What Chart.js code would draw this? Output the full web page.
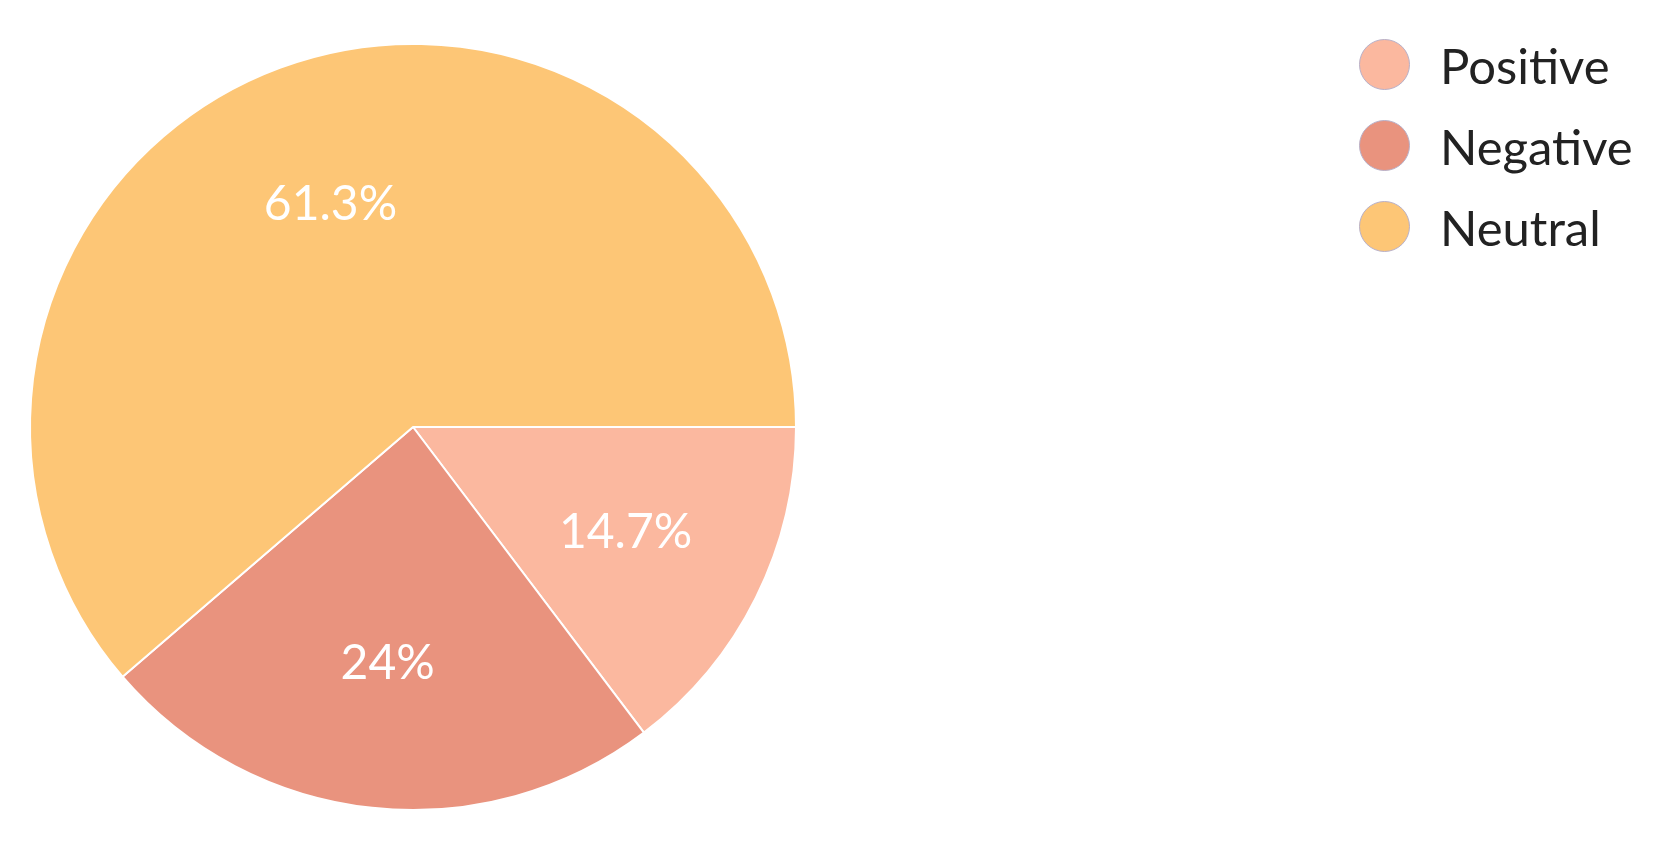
<!DOCTYPE html>
<html>
<head>
<meta charset="utf-8">
<script src="https://cdn.jsdelivr.net/npm/chart.js@4"></script>
<style>
  body { margin: 0; background: #fff; font-family: Lato, "Open Sans", sans-serif; }
  #wrap { position: absolute; left: 0; top: 0; width: 826px; height: 847px; }
  #legend { position: absolute; left: 1359px; top: 24px; }
  .item { display: flex; align-items: center; height: 81px; font-size: 49px; color: #222; }
  .dot { width: 51px; height: 51px; border-radius: 50%; margin-right: 30px; box-sizing: border-box; border: 1px solid #b8b0c8; }
</style>
</head>
<body>
<div id="wrap"><canvas id="pie"></canvas></div>
<div id="legend"></div>
<script>
const labels = ['Positive', 'Negative', 'Neutral'];
const values = [14.7, 24, 61.3];
const valueLabels = ['14.7%', '24%', '61.3%'];
const colors = ['#fbb89f', '#e9937e', '#fdc676'];

const legend = document.getElementById('legend');
labels.forEach((name, i) => {
  const row = document.createElement('div');
  row.className = 'item';
  row.innerHTML = `<span class="dot" style="background:${colors[i]}"></span>${name}`;
  legend.appendChild(row);
});

const sliceLabels = {
  id: 'sliceLabels',
  afterDatasetsDraw(chart) {
    const ctx = chart.ctx;
    ctx.save();
    ctx.fillStyle = '#fff';
    ctx.font = '48px Lato, "Open Sans", sans-serif';
    ctx.textAlign = 'center';
    ctx.textBaseline = 'middle';
    chart.getDatasetMeta(0).data.forEach((arc, i) => {
      const mid = (arc.startAngle + arc.endAngle) / 2;
      const r = arc.outerRadius * 0.62;
      ctx.fillText(valueLabels[i], arc.x + Math.cos(mid) * r, arc.y + Math.sin(mid) * r);
    });
    ctx.restore();
  }
};

new Chart(document.getElementById('pie'), {
  type: 'pie',
  data: {
    labels,
    datasets: [{ data: values, backgroundColor: colors, borderColor: '#fff', borderWidth: 2 }]
  },
  options: {
    responsive: true,
    maintainAspectRatio: false,
    animation: false,
    rotation: 90,
    layout: { padding: { left: 29, right: 29, top: 43, bottom: 36 } },
    plugins: { legend: { display: false }, tooltip: { enabled: false } }
  },
  plugins: [sliceLabels]
});
</script>
</body>
</html>
